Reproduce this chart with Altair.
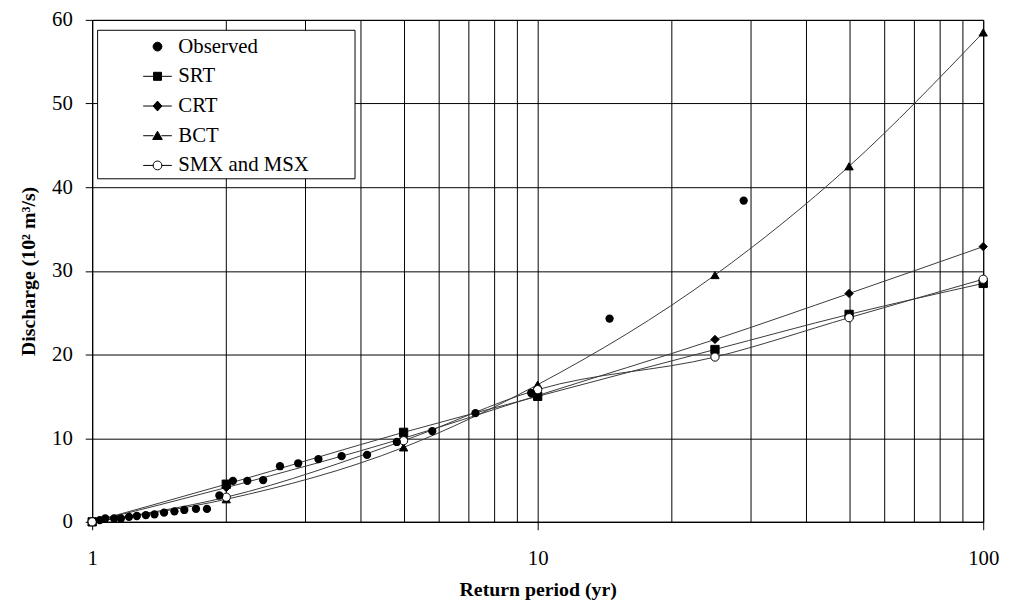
import altair as alt
import pandas as pd

# ---------------- data ----------------
series_names = ["Observed", "SRT", "CRT", "BCT", "SMX and MSX"]

model_T = [1, 2, 5, 10, 25, 50, 100]
srt_Q = [0, 4.5, 10.7, 15.0, 20.6, 24.8, 28.5]
crt_Q = [0, 4.1, 10.0, 15.1, 21.8, 27.3, 32.9]
bct_Q = [0, 2.7, 8.9, 16.4, 29.5, 42.5, 58.5]
smx_Q = [0, 2.95, 9.7, 15.8, 19.7, 24.4, 29.0]

obs_T = [29.0, 14.5, 9.67, 7.25, 5.8, 4.83, 4.14, 3.63, 3.22, 2.9, 2.64, 2.42,
         2.23, 2.07, 1.93, 1.81, 1.71, 1.61, 1.53, 1.45, 1.38, 1.32, 1.26,
         1.21, 1.16, 1.12, 1.07, 1.04]
obs_Q = [38.4, 24.3, 15.4, 13.0, 10.85, 9.55, 8.0, 7.85, 7.5, 7.0, 6.65, 5.0,
         4.9, 4.9, 3.15, 1.55, 1.55, 1.42, 1.26, 1.1, 0.9, 0.8, 0.7, 0.6,
         0.4, 0.4, 0.4, 0.2]

x_tick_values = [1, 2, 3, 4, 5, 6, 7, 8, 9, 10, 20, 30, 40, 50, 60, 70, 80, 90, 100]
x_label_values = [1, 10, 100]
y_tick_values = [0, 10, 20, 30, 40, 50, 60]

# ---------------- tables ----------------
model_series = {"SRT": srt_Q, "CRT": crt_Q, "BCT": bct_Q, "SMX and MSX": smx_Q}
rows = []
for name, qs in model_series.items():
    for t, q in zip(model_T, qs):
        rows.append({"T": t, "Q": q, "series": name})
models = pd.DataFrame(rows)
observed = pd.DataFrame({"T": obs_T, "Q": obs_Q, "series": "Observed"})
everything = pd.concat([observed, models], ignore_index=True)

FONT = "Liberation Serif"
label_test = " || ".join(f"datum.value == {v}" for v in x_label_values)

x_enc = alt.X(
    "T:Q",
    scale=alt.Scale(type="log", domain=[1, 100], nice=False),
    axis=alt.Axis(
        values=x_tick_values,
        labelExpr=f"({label_test}) ? format(datum.value, 'd') : ''",
        title="Return period (yr)",
        grid=True,
        tickSize=8,
        tickOpacity={"condition": {"test": label_test, "value": 1}, "value": 0},
        labelPadding=18,
        titlePadding=11,
        labelFlush=False,
        labelOverlap=False,
    ),
)
y_enc = alt.Y(
    "Q:Q",
    scale=alt.Scale(domain=[0, 60], nice=False),
    axis=alt.Axis(
        values=y_tick_values,
        title="Discharge (10² m³/s)",
        grid=True,
        tickSize=7,
        labelPadding=13,
        titlePadding=13,
        labelFlush=False,
    ),
)

model_shapes = ["square", "diamond", "triangle-up", "circle"]
model_fills = ["black", "black", "black", "white"]
model_domain = ["SRT", "CRT", "BCT", "SMX and MSX"]

lines = alt.Chart(models).mark_line(
    interpolate="monotone", color="#3a3a3a", strokeWidth=1
).encode(x=x_enc, y=y_enc, detail="series:N")

model_points = alt.Chart(models).mark_point(
    stroke="black", strokeWidth=1, opacity=1, fillOpacity=1, size=70
).encode(
    x=x_enc,
    y=y_enc,
    shape=alt.Shape("series:N", scale=alt.Scale(domain=model_domain, range=model_shapes), legend=None),
    fill=alt.Fill("series:N", scale=alt.Scale(domain=model_domain, range=model_fills), legend=None),
)

obs_points = alt.Chart(observed).mark_circle(
    color="black", opacity=1, size=70
).encode(x=x_enc, y=y_enc)

# legend symbols: line segments with the marker in the middle;
# the trailing move-to widens the legend frame to the right, as in the original
seg = "M-1.07,0H-0.3M0.3,0H1.07"
frame_reach = "M14.35,0"
legend_paths = [
    "M-0.33,0A0.33,0.33,0,1,0,0.33,0A0.33,0.33,0,1,0,-0.33,0Z" + frame_reach,
    seg + "M-0.3,-0.3H0.3V0.3H-0.3Z" + frame_reach,
    seg + "M0,-0.37L0.33,0L0,0.37L-0.33,0Z" + frame_reach,
    seg + "M0,-0.34L0.36,0.28H-0.36Z" + frame_reach,
    seg + "M-0.33,0A0.33,0.33,0,1,0,0.33,0A0.33,0.33,0,1,0,-0.33,0Z" + frame_reach,
]
legend_fills = ["black", "black", "black", "black", "white"]
legend_strokes = ["black", "black", "black", "black", "black"]

legend_spec = alt.Legend(
    title=None,
    orient="none",
    legendX=5,
    legendY=10,
    padding=3,
    strokeColor="black",
    fillColor="white",
    symbolSize=729,
    symbolOffset=44,
    labelOffset=7,
    labelFont=FONT,
    labelFontSize=21,
    labelColor="black",
    labelLimit=400,
    rowPadding=6,
    symbolStrokeColor="black",
    symbolStrokeWidth=1,
    symbolOpacity=1,
)

# legend-only layer: no rows of its own, entries come from the explicit domain
legend_layer = alt.Chart(everything).transform_filter("false").mark_point(
    strokeWidth=1
).encode(
    x=x_enc,
    y=y_enc,
    shape=alt.Shape("series:N", scale=alt.Scale(domain=series_names, range=legend_paths), legend=legend_spec),
    fill=alt.Fill("series:N", scale=alt.Scale(domain=series_names, range=legend_fills), legend=legend_spec),
    stroke=alt.Stroke("series:N", scale=alt.Scale(domain=series_names, range=legend_strokes), legend=legend_spec),
)

chart = (
    alt.layer(lines, model_points, obs_points, legend_layer)
    .resolve_scale(shape="independent", fill="independent", stroke="independent")
    .properties(width=900, height=507, background="white",
                padding={"left": 11, "top": -2, "right": 5, "bottom": 5})
    .configure_view(stroke="black", strokeWidth=1)
    .configure_axis(
        domainColor="black",
        domainWidth=1,
        gridColor="black",
        gridWidth=1,
        gridOpacity=1,
        tickColor="black",
        tickWidth=1,
        labelColor="black",
        titleColor="black",
        labelFont=FONT,
        titleFont=FONT,
        labelFontSize=21,
        titleFontSize=20,
        titleFontWeight="bold",
    )
)

chart.save("out.html", embed_options={"renderer": "svg", "actions": False})
